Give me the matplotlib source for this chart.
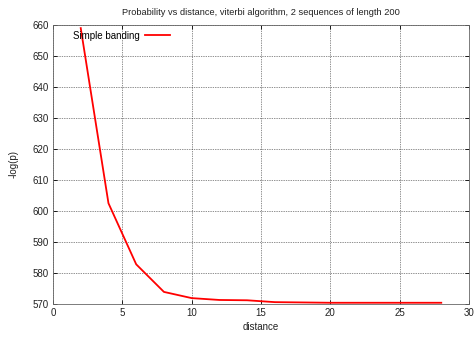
import matplotlib
matplotlib.use("Agg")
import matplotlib.pyplot as plt

distance = [2, 4, 6, 8, 10, 12, 14, 16, 18, 20, 22, 24, 26, 28]
neglogp = [659.0, 602.5, 582.8, 573.9, 571.9, 571.3, 571.2, 570.6, 570.5, 570.4, 570.4, 570.4, 570.4, 570.4]
xticks = [0, 5, 10, 15, 20, 25, 30]
yticks = [570, 580, 590, 600, 610, 620, 630, 640, 650, 660]

plt.rcParams['font.family'] = ['Liberation Sans', 'DejaVu Sans']
fig = plt.figure(figsize=(4.74, 3.38), dpi=100)
ax = fig.add_axes([53/474, 1-304/338, (469-53)/474, (304-25)/338])

ax.plot(distance, neglogp, color='#ff0000', lw=1.3, label='Simple banding')
ax.set_xlim(0, 30)
ax.set_ylim(570, 660)
ax.set_xticks(xticks)
ax.set_yticks(yticks)
ax.tick_params(direction='in', length=3, width=0.6, labelsize=7, top=True, right=True,
               labeltop=False, labelright=False, pad=3, colors='black', labelcolor='#222222')
ax.grid(True, color='#222222', linestyle=(0, (1, 1.5)), linewidth=0.5)
for s in ax.spines.values():
    s.set_linestyle((0, (1, 1)))
    s.set_linewidth(0.6)
    s.set_color('#666666')

ax.set_title('Probability vs distance, viterbi algorithm, 2 sequences of length 200',
             fontsize=6.7, pad=7, color='#222222')
ax.set_xlabel('distance', fontsize=7, labelpad=3, color='#222222')
ax.set_ylabel('-log(p)', fontsize=7, labelpad=10, color='#222222')

leg = ax.legend(loc='upper left', frameon=False, fontsize=7, markerfirst=False,
                handlelength=2.6, handletextpad=0.5, borderaxespad=0.2,
                bbox_to_anchor=(0.035, 1.0))

fig.savefig('out.png', dpi=100)
